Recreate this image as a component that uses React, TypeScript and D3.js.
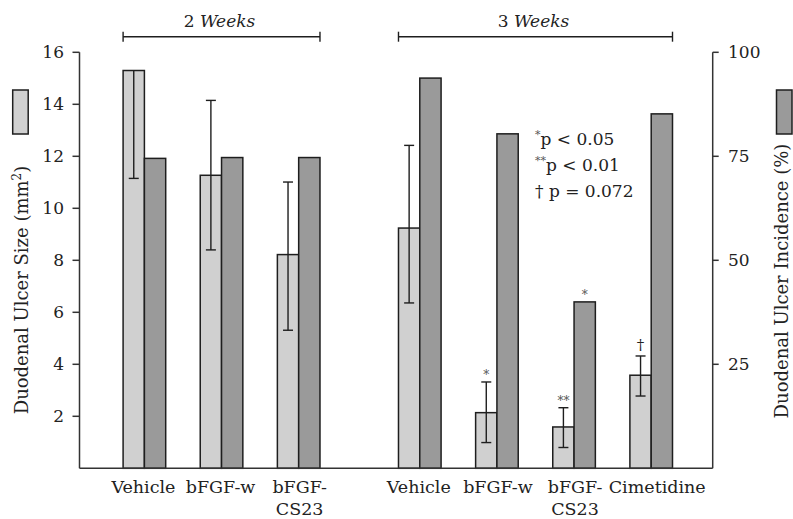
import React from "react";
import * as d3 from "d3";

// ---- data ----
const groupTitles = ["2", "3"];
const categoryLines: string[][] = [
  ["Vehicle"], ["bFGF-w"], ["bFGF-", "CS23"],
  ["Vehicle"], ["bFGF-w"], ["bFGF-", "CS23"], ["Cimetidine"],
];
const categoryGroup = [0, 0, 0, 1, 1, 1, 1];
const ulcerSize = [15.3, 11.27, 8.22, 9.24, 2.14, 1.59, 3.58];
const sizeErrUp = [0, 2.88, 2.79, 3.18, 1.18, 0.74, 0.74];
const sizeErrDown = [4.15, 2.87, 2.91, 2.88, 1.15, 0.79, 0.8];
const incidence = [74.5, 74.7, 74.7, 93.8, 80.4, 40.0, 85.2];
const sizeMarks = ["", "", "", "", "*", "**", "\u2020"];
const incidenceMarks = ["", "", "", "", "", "*", ""];
const leftTicks = [2, 4, 6, 8, 10, 12, 14, 16];
const rightTicks = [25, 50, 75, 100];

const W = 793, H = 519;
const FONT = "'DejaVu Serif', serif";
const LIGHT = "#d0d0d0";
const DARK = "#9a9a9a";
const STROKE = "#1e1e1e";
// small horizontal nudges so adjacent category labels don't collide
const labelNudge = [-1, -1, 1, -1, 1, 1, 6];

export default function App() {
  const base = 468.3, top = 52.3;
  const yL = d3.scaleLinear().domain([0, 16]).range([base, top]);
  const yR = d3.scaleLinear().domain([0, 100]).range([base, top]);
  const gapSlots = 0.57;
  const slots = categoryGroup.map((g, i) => i + (g === 1 ? gapSlots : 0));
  const x = d3.scaleLinear().domain([0, 6 + gapSlots]).range([144.4, 651.2]);
  const bw = 21.3;
  const axL = 79.5, axR = 712.7;
  const cap = 5;

  const groupIdx = [0, 1];
  return (
    <svg width={W} height={H} style={{ position: "absolute", left: 0, top: 0, background: "#fff" }}
      fontFamily={FONT}>
      {/* group brackets */}
      {groupIdx.map((g) => {
        const idx = categoryGroup.map((cg, i) => (cg === g ? i : -1)).filter((i) => i >= 0);
        const x0 = x(slots[idx[0]]) - bw;
        const x1 = x(slots[idx[idx.length - 1]]) + bw;
        const yb = 36.7;
        return (
          <g key={"br" + g}>
            <line x1={x0} x2={x1} y1={yb} y2={yb} stroke={STROKE} strokeWidth={1.4} />
            <line x1={x0} x2={x0} y1={yb - 5} y2={yb + 5} stroke={STROKE} strokeWidth={1.4} />
            <line x1={x1} x2={x1} y1={yb - 5} y2={yb + 5} stroke={STROKE} strokeWidth={1.4} />
            <text x={(x0 + x1) / 2 - 2} y={26.5} textAnchor="middle" fontSize={17} fill="#222">
              {groupTitles[g]} <tspan fontStyle="italic">Weeks</tspan>
            </text>
          </g>
        );
      })}

      {/* bars */}
      {ulcerSize.map((v, i) => {
        const cx = x(slots[i]);
        const lx = cx - bw;
        const ecx = cx - bw / 2;
        const eTop = yL(v + sizeErrUp[i]);
        const eBot = yL(v - sizeErrDown[i]);
        return (
          <g key={"b" + i}>
            <rect x={lx} y={yL(v)} width={bw} height={base - yL(v)} fill={LIGHT} stroke={STROKE} strokeWidth={1.5} />
            <rect x={cx} y={yR(incidence[i])} width={bw} height={base - yR(incidence[i])} fill={DARK} stroke={STROKE} strokeWidth={1.5} />
            <line x1={ecx} x2={ecx} y1={eTop} y2={eBot} stroke={STROKE} strokeWidth={1.4} />
            {sizeErrUp[i] > 0 && (
              <line x1={ecx - cap} x2={ecx + cap} y1={eTop} y2={eTop} stroke={STROKE} strokeWidth={1.4} />
            )}
            <line x1={ecx - cap} x2={ecx + cap} y1={eBot} y2={eBot} stroke={STROKE} strokeWidth={1.4} />
            {sizeMarks[i] && (
              <text x={ecx} y={sizeMarks[i] === "\u2020" ? eTop - 6 : eTop - 3} textAnchor="middle"
                fontSize={sizeMarks[i] === "\u2020" ? 15 : 12} fill={sizeMarks[i] === "\u2020" ? "#222" : "#555"}>
                {sizeMarks[i]}
              </text>
            )}
            {incidenceMarks[i] && (
              <text x={cx + bw / 2} y={yR(incidence[i]) - 3} textAnchor="middle" fontSize={12} fill="#555">
                {incidenceMarks[i]}
              </text>
            )}
            {categoryLines[i].map((ln, k) => (
              <text key={k} x={cx + labelNudge[i]} y={493 + k * 22} textAnchor="middle" fontSize={17.5} fill="#222">
                {ln}
              </text>
            ))}
          </g>
        );
      })}

      {/* axes */}
      <line x1={axL} x2={axL} y1={top} y2={base} stroke="#333" strokeWidth={1.5} />
      <line x1={axR} x2={axR} y1={top} y2={base} stroke="#333" strokeWidth={1.5} />
      <line x1={axL} x2={axR} y1={base} y2={base} stroke="#333" strokeWidth={1.5} />
      {leftTicks.map((t) => (
        <g key={"lt" + t}>
          <line x1={axL - 7} x2={axL} y1={yL(t)} y2={yL(t)} stroke="#333" strokeWidth={1.5} />
          <text x={64} y={yL(t)} dy="0.36em" textAnchor="end" fontSize={17} fill="#222">{t}</text>
        </g>
      ))}
      {rightTicks.map((t) => (
        <g key={"rt" + t}>
          <line x1={axR} x2={axR + 6} y1={yR(t)} y2={yR(t)} stroke="#333" strokeWidth={1.5} />
          <text x={728} y={yR(t)} dy="0.36em" textAnchor="start" fontSize={17} fill="#222">{t}</text>
        </g>
      ))}

      {/* axis titles */}
      <text transform="translate(28,290) rotate(-90)" textAnchor="middle" fontSize={18} fill="#222">
        Duodenal Ulcer Size (mm<tspan dy={-7} fontSize={12}>2</tspan><tspan dy={7}>)</tspan>
      </text>
      <text transform="translate(788,281) rotate(-90)" textAnchor="middle" fontSize={18} fill="#222">
        Duodenal Ulcer Incidence (%)
      </text>

      {/* legend swatches */}
      <rect x={12.7} y={90} width={15.5} height={44} fill={LIGHT} stroke={STROKE} strokeWidth={1.5} />
      <rect x={776.5} y={90} width={15.5} height={44} fill={DARK} stroke={STROKE} strokeWidth={1.5} />

      {/* significance note */}
      <g fontSize={17} fill="#222">
        <text x={535} y={145}><tspan fontSize={11} dy={-7} fill="#555">*</tspan><tspan dy={7}>p &lt; 0.05</tspan></text>
        <text x={535} y={171}><tspan fontSize={11} dy={-7} fill="#555">**</tspan><tspan dy={7}>p &lt; 0.01</tspan></text>
        <text x={535} y={197}>{"\u2020 p = 0.072"}</text>
      </g>
    </svg>
  );
}
